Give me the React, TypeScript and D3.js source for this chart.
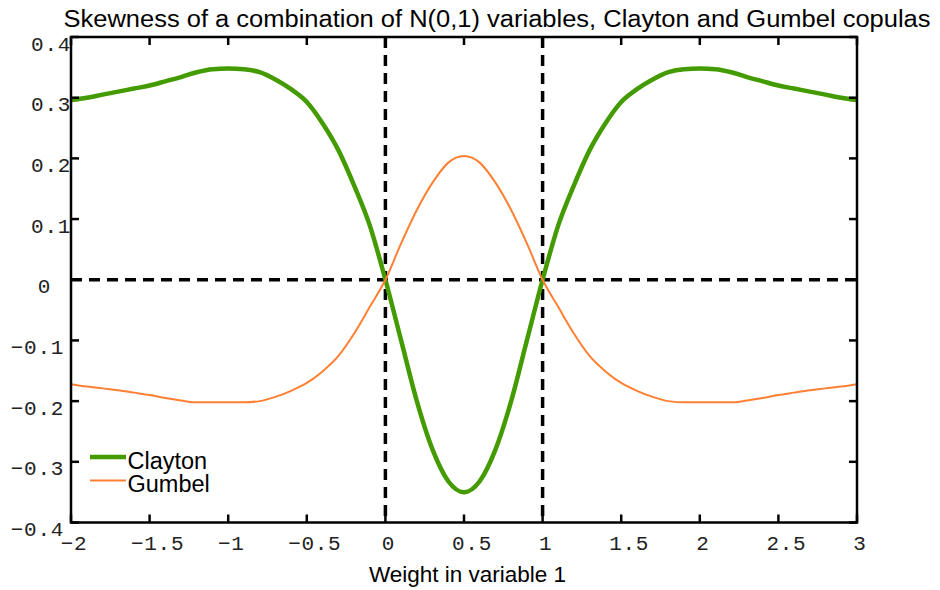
import React from "react";
import * as d3 from "d3";

const xValues = [-2.0,-1.9,-1.8,-1.7,-1.6,-1.5,-1.4,-1.3,-1.2,-1.1,-1.0,-0.9,-0.8,-0.7,-0.6,-0.5,-0.4,-0.3,-0.2,-0.1,0.0,0.1,0.2,0.3,0.4,0.5,0.6,0.7,0.8,0.9,1.0,1.1,1.2,1.3,1.4,1.5,1.6,1.7,1.8,1.9,2.0,2.1,2.2,2.3,2.4,2.5,2.6,2.7,2.8,2.9,3.0];

const clayton = [0.296,0.300,0.305,0.310,0.315,0.320,0.327,0.334,0.342,0.347,0.348,0.347,0.342,0.330,0.314,0.293,0.258,0.214,0.156,0.090,0.000,-0.100,-0.200,-0.280,-0.332,-0.350,-0.332,-0.280,-0.200,-0.100,0.000,0.090,0.156,0.214,0.258,0.293,0.314,0.330,0.342,0.347,0.348,0.347,0.342,0.334,0.327,0.320,0.315,0.310,0.305,0.300,0.296];

const gumbel = [-0.172,-0.176,-0.179,-0.182,-0.186,-0.190,-0.195,-0.199,-0.202,-0.202,-0.202,-0.202,-0.200,-0.193,-0.183,-0.170,-0.151,-0.126,-0.089,-0.045,0.000,0.060,0.115,0.160,0.193,0.204,0.193,0.160,0.115,0.060,0.000,-0.045,-0.089,-0.126,-0.151,-0.170,-0.183,-0.193,-0.200,-0.202,-0.202,-0.202,-0.202,-0.199,-0.195,-0.190,-0.186,-0.182,-0.179,-0.176,-0.172];

const xTicks = [-2,-1.5,-1,-0.5,0,0.5,1,1.5,2,2.5,3];
const yTicks = [-0.4,-0.3,-0.2,-0.1,0,0.1,0.2,0.3,0.4];
const refX = [0, 1];
const refY = [0];

const seriesNames = ["Clayton", "Gumbel"];
const seriesColors = ["#449b00", "#ff8033"];
const seriesWidths = [4.5, 2];

const title = "Skewness of a combination of N(0,1) variables, Clayton and Gumbel copulas";
const xLabel = "Weight in variable 1";

const W = 940, H = 590;
const left = 71, right = 857, top = 37, bottom = 522.5;

function fmt(v: number) {
  const r = Math.round(v * 10) / 10;
  return String(r).replace("-", "\u2212");
}

export default function App() {
  const x = d3.scaleLinear().domain([-2, 3]).range([left, right]);
  const y = d3.scaleLinear().domain([-0.4, 0.4]).range([bottom, top]);
  const line = d3.line<[number, number]>().x(d => x(d[0])).y(d => y(d[1])).curve(d3.curveMonotoneX);
  const series = [clayton, gumbel].map(vals => xValues.map((xv, i) => [xv, vals[i]] as [number, number]));
  const mono = "'Liberation Mono', 'DejaVu Sans Mono', monospace";
  const sans = "'Liberation Sans', Arial, sans-serif";
  const tickLen = 8;

  return (
    <svg width={W} height={H} style={{ position: "absolute", left: 0, top: 0, background: "#fff" }}>
      <rect x={0} y={0} width={W} height={H} fill="#fff" />
      <text x={497} y={26.5} textAnchor="middle" fontFamily={sans} fontSize={23} textLength={867} lengthAdjust="spacingAndGlyphs" fill="#000">{title}</text>

      {refX.map(v => (
        <line key={"rx" + v} x1={x(v)} x2={x(v)} y1={top} y2={bottom} stroke="#000" strokeWidth={3.5} strokeDasharray="11,7" />
      ))}
      {refY.map(v => (
        <line key={"ry" + v} x1={left} x2={right} y1={y(v)} y2={y(v)} stroke="#000" strokeWidth={3.5} strokeDasharray="11,7" />
      ))}

      {series.map((s, i) => (
        <path key={seriesNames[i]} d={line(s) || ""} fill="none" stroke={seriesColors[i]} strokeWidth={seriesWidths[i]} strokeLinejoin="round" />
      ))}

      <rect x={left} y={top} width={right - left} height={bottom - top} fill="none" stroke="#000" strokeWidth={2.5} />

      {xTicks.map(t => (
        <g key={"xt" + t}>
          <line x1={x(t)} x2={x(t)} y1={bottom} y2={bottom - tickLen} stroke="#000" strokeWidth={2.5} />
          <line x1={x(t)} x2={x(t)} y1={top} y2={top + tickLen} stroke="#000" strokeWidth={2.5} />
          <text x={x(t) + (Number.isInteger(t) ? 3 : 8)} y={549.5} textAnchor="middle" fontFamily={mono} fontSize={21} letterSpacing={0.7} fill="#222">{fmt(t)}</text>
        </g>
      ))}
      {yTicks.map(t => (
        <g key={"yt" + t}>
          <line x1={left} x2={left + tickLen} y1={y(t)} y2={y(t)} stroke="#000" strokeWidth={2.5} />
          <line x1={right} x2={right - tickLen} y1={y(t)} y2={y(t)} stroke="#000" strokeWidth={2.5} />
          <text x={t > 0 ? 71 : t < 0 ? 64 : 51} y={y(t) + 13.5} textAnchor="end" fontFamily={mono} fontSize={21} letterSpacing={0.7} fill="#222">{fmt(t)}</text>
        </g>
      ))}

      <text x={467.5} y={582} textAnchor="middle" fontFamily={sans} fontSize={22.5} fill="#000">{xLabel}</text>

      {seriesNames.map((n, i) => (
        <g key={"lg" + n}>
          <line x1={90} x2={126} y1={457 + i * 23.5} y2={457 + i * 23.5} stroke={seriesColors[i]} strokeWidth={seriesWidths[i]} />
          <text x={127.5} y={468.5 + i * 23.5} fontFamily={sans} fontSize={23.5} fill="#000">{n}</text>
        </g>
      ))}
    </svg>
  );
}
